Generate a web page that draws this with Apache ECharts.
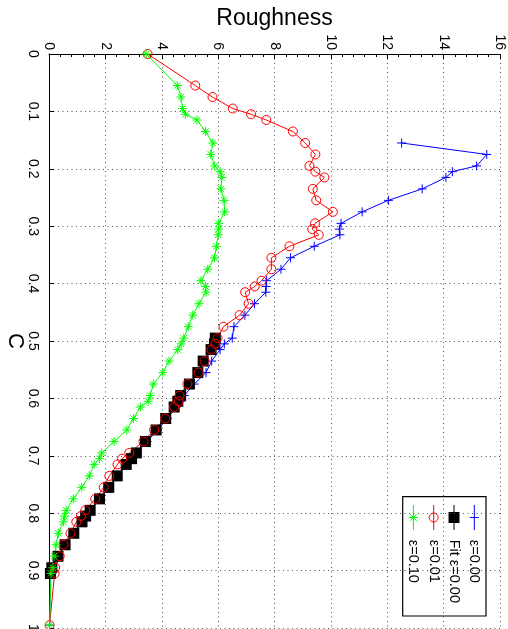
<!DOCTYPE html>
<html>
<head>
<meta charset="utf-8">
<script src="https://cdn.jsdelivr.net/npm/echarts@6/dist/echarts.min.js"></script>
<style>
  html, body { margin: 0; padding: 0; background: #fff; }
  #chart { width: 508px; height: 629px; }
</style>
</head>
<body>
<div id="chart"></div>
<script>
// C samples shared by eps=0.01 and eps=0.10 runs
const cAll = [0, 0.055, 0.075, 0.095, 0.105, 0.115, 0.135, 0.155, 0.175, 0.195,
  0.205, 0.215, 0.235, 0.255, 0.275, 0.295, 0.305, 0.315, 0.335, 0.355, 0.375, 0.395,
  0.405, 0.415, 0.435, 0.455, 0.475, 0.495, 0.505, 0.515, 0.535, 0.555, 0.575, 0.595,
  0.605, 0.615, 0.635, 0.655, 0.675, 0.695, 0.705, 0.715, 0.735, 0.755, 0.775, 0.795,
  0.805, 0.815, 0.835, 0.855, 0.875, 0.895, 0.905, 0.995];

const roughEps001 = [3.5, 5.19, 5.80, 6.52, 7.17, 7.71, 8.65, 9.09, 9.45, 9.24,
  9.45, 9.77, 9.36, 9.48, 10.07, 9.44, 9.34, 9.57, 8.53, 7.89, 7.89, 7.54,
  7.30, 6.96, 7.08, 6.76, 6.19, 5.98, 5.90, 5.76, 5.52, 5.31, 4.91, 4.63,
  4.60, 4.44, 4.12, 3.73, 3.35, 2.85, 2.59, 2.43, 2.14, 1.94, 1.64, 1.29,
  1.13, 0.97, 0.76, 0.52, 0.38, 0.22, 0.20, 0.02];

const roughEps010 = [3.45, 4.55, 4.68, 4.74, 4.84, 5.25, 5.55, 5.81, 5.74, 5.88,
  6.07, 6.13, 6.10, 6.21, 6.23, 6.02, 6.02, 6.00, 5.94, 5.87, 5.63, 5.39,
  5.55, 5.57, 5.32, 5.10, 4.94, 4.78, 4.69, 4.57, 4.26, 4.04, 3.70, 3.59,
  3.52, 3.24, 3.00, 2.76, 2.31, 1.87, 1.79, 1.60, 1.43, 1.16, 0.86, 0.61,
  0.55, 0.51, 0.33, 0.25, 0.18, 0.14, 0.07, 0.02];

// eps=0.00 run starts later
const cEps000 = [0.155, 0.175, 0.195, 0.205, 0.215, 0.235, 0.255, 0.275, 0.295,
  0.305, 0.315, 0.335, 0.355, 0.375, 0.395, 0.405, 0.415, 0.435, 0.455, 0.475, 0.495,
  0.505, 0.515, 0.535, 0.555, 0.575, 0.595, 0.605, 0.615, 0.635, 0.655, 0.675, 0.695,
  0.705, 0.715, 0.735, 0.755, 0.775, 0.795, 0.805, 0.815, 0.835, 0.855, 0.875, 0.895,
  0.905, 0.995];
const roughEps000 = [12.51, 15.53, 15.17, 14.31, 14.08, 13.24, 12.04, 11.11, 10.36,
  10.30, 10.32, 9.41, 8.57, 8.23, 7.72, 7.70, 7.69, 7.29, 6.95, 6.56, 6.50,
  6.22, 6.07, 5.77, 5.57, 5.15, 4.80, 4.68, 4.52, 4.20, 3.85, 3.48, 3.12,
  2.95, 2.76, 2.45, 2.14, 1.80, 1.47, 1.32, 1.18, 0.88, 0.56, 0.30, 0.10,
  0.05, 0.02];

// fit of eps=0.00
const cFit = [0.495, 0.505, 0.515, 0.535, 0.555, 0.575, 0.595, 0.605, 0.615, 0.635,
  0.655, 0.675, 0.695, 0.705, 0.715, 0.735, 0.755, 0.775, 0.795, 0.805, 0.815,
  0.835, 0.855, 0.875, 0.895, 0.905];
const roughFit = [5.90, 5.87, 5.75, 5.47, 5.28, 4.98, 4.67, 4.57, 4.44, 4.14,
  3.80, 3.42, 3.10, 2.93, 2.74, 2.42, 2.12, 1.79, 1.46, 1.30, 1.17,
  0.88, 0.57, 0.32, 0.10, 0.05];

const roughTicks = ['0', '2', '4', '6', '8', '10', '12', '14', '16'];
const cTicks = ['0', '0.1', '0.2', '0.3', '0.4', '0.5', '0.6', '0.7', '0.8', '0.9', '1'];

const legendNames = ['\u03b5=0.00', 'Fit \u03b5=0.00', '\u03b5=0.01', '\u03b5=0.10'];

const FONT = '"Liberation Sans", Arial, Helvetica, sans-serif';

function zip(xs, ys) {
  return xs.map((x, i) => [x, ys[i]]);
}

const plusPath = 'path://M0,5L10,5M5,0L5,10';
const starPath = 'path://M0,5L10,5M5,0L5,10M1.5,1.5L8.5,8.5M8.5,1.5L1.5,8.5';

// legend, drawn unrotated then turned clockwise like the rest of the figure
function legendGraphic() {
  const rows = [11.7, 32, 52.3, 72.6];
  const kids = [{
    type: 'rect',
    shape: { x: 0, y: 0, width: 119.3, height: 83.3 },
    style: { fill: '#fff', stroke: '#000', lineWidth: 1.2 }
  }];
  const colors = ['#0000ff', '#000000', '#ff0000', '#00ff00'];
  rows.forEach((ly, i) => {
    kids.push({
      type: 'line',
      shape: { x1: 8.3, y1: ly, x2: 33.3, y2: ly },
      style: { stroke: colors[i], lineWidth: 1 }
    });
    const mx = 20.8;
    if (i === 0) {
      kids.push({ type: 'line', shape: { x1: mx, y1: ly - 4.5, x2: mx, y2: ly + 4.5 }, style: { stroke: colors[i], lineWidth: 1 } });
    } else if (i === 1) {
      kids.push({ type: 'rect', shape: { x: mx - 5.5, y: ly - 5.5, width: 11, height: 11 }, style: { fill: '#000' } });
    } else if (i === 2) {
      kids.push({ type: 'circle', shape: { cx: mx, cy: ly, r: 4.5 }, style: { fill: 'none', stroke: colors[i], lineWidth: 1 } });
    } else {
      [[-4.5, 0, 4.5, 0], [0, -4.5, 0, 4.5], [-3.3, -3.3, 3.3, 3.3], [3.3, -3.3, -3.3, 3.3]].forEach(s => {
        kids.push({ type: 'line', shape: { x1: mx + s[0], y1: ly + s[1], x2: mx + s[2], y2: ly + s[3] }, style: { stroke: colors[i], lineWidth: 1 } });
      });
    }
    kids.push({
      type: 'text',
      style: { text: legendNames[i], x: 43, y: ly, font: '14.5px ' + FONT, fill: '#000', verticalAlign: 'middle', align: 'left' }
    });
  });
  return {
    type: 'group',
    x: 486,
    y: 496.7,
    rotation: -Math.PI / 2,
    z: 100,
    children: kids
  };
}

const chart = echarts.init(document.getElementById('chart'));

const option = {
  animation: false,
  backgroundColor: '#fff',
  grid: { left: 49, top: 54, width: 451, height: 574, containLabel: false, outerBoundsMode: 'none' },
  xAxis: {
    type: 'value',
    position: 'top',
    min: 0,
    max: 16,
    interval: 2,
    name: 'Roughness',
    nameLocation: 'middle',
    nameGap: 24,
    nameMoveOverlap: false,
    nameTextStyle: { fontFamily: FONT, fontSize: 23, color: '#000' },
    axisLine: { lineStyle: { color: '#000', width: 1 } },
    axisTick: { inside: true, length: 5, lineStyle: { color: '#000' } },
    minorTick: { show: true, splitNumber: 5, length: 3, lineStyle: { color: '#000' } },
    axisLabel: {
      rotate: -90,
      margin: 4,
      align: 'right',
      verticalAlign: 'middle',
      fontFamily: FONT,
      fontSize: 14,
      color: '#000',
      formatter: v => roughTicks[Math.round(v / 2)]
    },
    splitLine: { show: true, lineStyle: { color: '#555', type: [1, 3.5], width: 1 } }
  },
  yAxis: {
    type: 'value',
    inverse: true,
    min: 0,
    max: 1,
    interval: 0.1,
    name: 'C',
    nameLocation: 'middle',
    nameRotate: -90,
    nameGap: 23,
    nameMoveOverlap: false,
    nameTextStyle: { fontFamily: FONT, fontSize: 22, color: '#000' },
    axisLine: { lineStyle: { color: '#000', width: 1 } },
    axisTick: { inside: true, length: 5, lineStyle: { color: '#000' } },
    axisLabel: {
      rotate: -90,
      margin: 9,
      align: 'center',
      verticalAlign: 'top',
      fontFamily: FONT,
      fontSize: 14,
      color: '#000',
      formatter: v => cTicks[Math.round(v * 10)]
    },
    splitLine: { show: true, lineStyle: { color: '#555', type: [1, 3.5], width: 1 } }
  },
  series: [
    {
      name: legendNames[0],
      type: 'line',
      data: zip(roughEps000, cEps000),
      clip: false,
      symbol: plusPath,
      symbolSize: 9,
      lineStyle: { color: '#0000ff', width: 1 },
      itemStyle: { color: 'transparent', borderColor: '#0000ff', borderWidth: 1 }
    },
    {
      name: legendNames[1],
      type: 'line',
      data: zip(roughFit, cFit),
      clip: false,
      symbol: 'rect',
      symbolSize: 11,
      lineStyle: { color: '#000', width: 1 },
      itemStyle: { color: '#000' }
    },
    {
      name: legendNames[2],
      type: 'line',
      data: zip(roughEps001, cAll),
      clip: false,
      symbol: 'circle',
      symbolSize: 9,
      lineStyle: { color: '#ff0000', width: 1 },
      itemStyle: { color: 'transparent', borderColor: '#ff0000', borderWidth: 1 }
    },
    {
      name: legendNames[3],
      type: 'line',
      data: zip(roughEps010, cAll),
      clip: false,
      symbol: starPath,
      symbolSize: 9,
      lineStyle: { color: '#00ff00', width: 1 },
      itemStyle: { color: 'transparent', borderColor: '#00ff00', borderWidth: 1 }
    }
  ],
  graphic: [legendGraphic()]
};

chart.setOption(option);
</script>
</body>
</html>
